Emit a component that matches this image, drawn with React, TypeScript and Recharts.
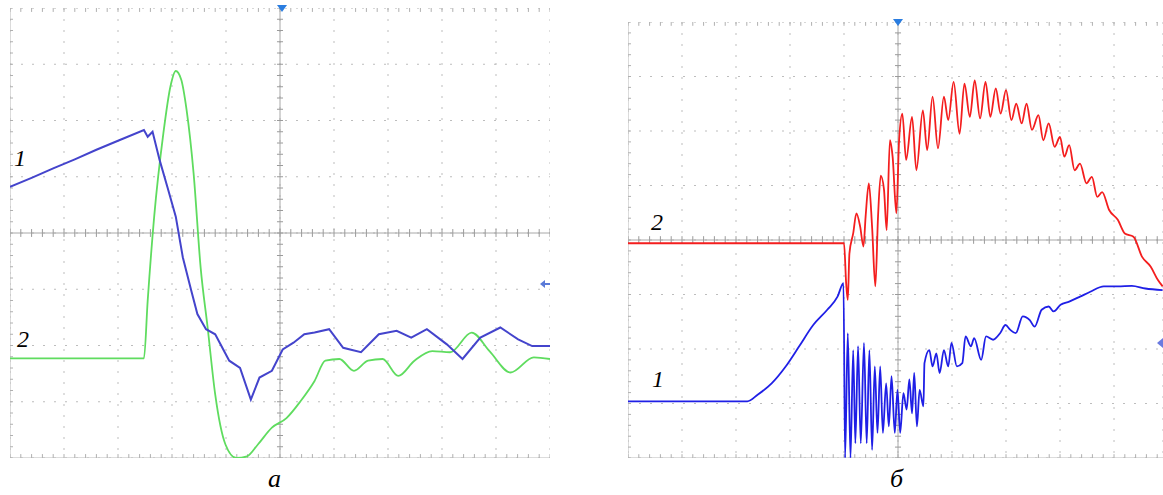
import React from "react";
import { LineChart, Line, XAxis, YAxis, CartesianGrid, ReferenceLine } from "recharts";

// screen divisions (x: 0..10, y: 0..8, centre at 5 / 4)
const majorX = [0, 1, 2, 3, 4, 5, 6, 7, 8, 9, 10];
const majorY = [0, 1, 2, 3, 4, 5, 6, 7, 8];
const minorX = Array.from({ length: 51 }, (_, i) => i / 5);
const minorY = Array.from({ length: 41 }, (_, i) => i / 5);

// panel а
const aTrace1: [number, number][] = [
  [0, 4.82], [0.4, 4.98], [0.8, 5.15], [1.2, 5.31], [1.6, 5.48], [2.0, 5.64], [2.48, 5.83], [2.55, 5.71],
  [2.64, 5.8], [2.77, 5.3], [2.92, 4.8], [3.07, 4.29], [3.2, 3.57], [3.35, 3.0], [3.47, 2.56], [3.63, 2.29],
  [3.8, 2.2], [4.06, 1.73], [4.26, 1.6], [4.46, 1.04], [4.62, 1.43], [4.85, 1.55], [5.05, 1.93], [5.25, 2.05],
  [5.45, 2.2], [5.64, 2.23], [5.91, 2.29], [6.17, 1.96], [6.5, 1.88], [6.83, 2.2], [7.16, 2.26], [7.43, 2.14],
  [7.72, 2.29], [8.09, 2.02], [8.38, 1.76], [8.71, 2.14], [9.08, 2.32], [9.41, 2.11], [9.67, 1.99], [10, 1.99],
];
const aTrace2: [number, number][] = [
  [0, 1.77], [1.0, 1.77], [2.0, 1.77], [2.48, 1.77], [2.55, 2.8], [2.67, 4.29], [2.84, 5.77], [2.97, 6.6],
  [3.07, 6.88], [3.17, 6.73], [3.27, 6.19], [3.4, 5.06], [3.53, 3.39], [3.66, 2.32], [3.8, 1.13], [3.99, 0.24],
  [4.19, 0.0], [4.39, 0.03], [4.59, 0.24], [4.85, 0.54], [5.12, 0.71], [5.38, 1.01], [5.64, 1.37], [5.84, 1.73],
  [6.1, 1.76], [6.37, 1.55], [6.63, 1.73], [6.9, 1.76], [7.19, 1.46], [7.49, 1.73], [7.82, 1.9], [8.15, 1.88],
  [8.55, 2.23], [8.88, 1.9], [9.27, 1.52], [9.7, 1.79], [10, 1.76],
];

// panel б
const bTrace2: [number, number][] = [
  [0, 3.94], [1, 3.94], [2, 3.94], [3, 3.94], [4.0, 3.94], [4.04, 3.2], [4.07, 2.9], [4.1, 3.75], [4.17, 4.12],
  [4.23, 4.49], [4.3, 4.24], [4.36, 3.88], [4.4, 4.43], [4.46, 5.04], [4.52, 4.24], [4.58, 3.15], [4.63, 4.43],
  [4.68, 5.18], [4.74, 4.93], [4.79, 4.18], [4.85, 5.83], [4.9, 5.53], [4.97, 4.49], [5.02, 5.83], [5.08, 6.32],
  [5.15, 5.47], [5.26, 6.26], [5.34, 5.28], [5.46, 6.38], [5.54, 5.65], [5.64, 6.63], [5.74, 5.68], [5.85, 6.63],
  [5.93, 6.2], [6.03, 6.9], [6.14, 5.95], [6.23, 6.87], [6.33, 6.26], [6.42, 6.93], [6.52, 6.23], [6.62, 6.9],
  [6.71, 6.26], [6.81, 6.78], [6.9, 6.32], [7.0, 6.75], [7.1, 6.2], [7.19, 6.5], [7.29, 6.14], [7.38, 6.5],
  [7.48, 6.02], [7.6, 6.29], [7.69, 5.83], [7.79, 6.14], [7.9, 5.71], [8.0, 5.89], [8.08, 5.53], [8.17, 5.74],
  [8.27, 5.28], [8.37, 5.4], [8.49, 5.04], [8.59, 5.16], [8.69, 4.79], [8.78, 4.88], [8.91, 4.55], [9.07, 4.37],
  [9.2, 4.12], [9.36, 4.06], [9.52, 3.69], [9.68, 3.51], [9.81, 3.27], [9.9, 3.15],
];
const bTrace1: [number, number][] = [
  [0, 1.04], [1, 1.04], [2.21, 1.04], [2.4, 1.16], [2.66, 1.37], [2.92, 1.68], [3.17, 2.05], [3.43, 2.44],
  [3.69, 2.72], [3.88, 2.96], [3.99, 3.21], [4.02, 0], [4.07, 2.29], [4.12, 0], [4.17, 1.98], [4.21, 0.27],
  [4.26, 2.05], [4.31, 0.27], [4.37, 2.11], [4.42, 0.27], [4.47, 1.98], [4.52, 0.15], [4.57, 1.68], [4.62, 0.46],
  [4.67, 1.68], [4.72, 0.46], [4.78, 1.37], [4.83, 0.58], [4.88, 1.5], [4.94, 0.46], [4.99, 1.25], [5.04, 0.46],
  [5.1, 1.19], [5.16, 0.89], [5.21, 1.44], [5.26, 0.82], [5.3, 1.56], [5.35, 0.58], [5.4, 1.25], [5.47, 0.95],
  [5.49, 1.74], [5.58, 1.98], [5.64, 1.68], [5.71, 1.92], [5.77, 1.56], [5.85, 1.98], [5.93, 1.68], [5.99, 2.11],
  [6.09, 1.68], [6.19, 1.74], [6.25, 2.23], [6.35, 2.05], [6.41, 2.2], [6.54, 1.8], [6.63, 2.23], [6.76, 2.17],
  [6.89, 2.29], [6.99, 2.44], [7.08, 2.35], [7.18, 2.29], [7.31, 2.6], [7.44, 2.53], [7.53, 2.41], [7.66, 2.72],
  [7.79, 2.78], [7.88, 2.69], [8.01, 2.81], [8.17, 2.87], [8.37, 2.96], [8.56, 3.05], [8.81, 3.15], [9.07, 3.15],
  [9.33, 3.16], [9.58, 3.11], [9.9, 3.08],
];

const toRows = (pts: [number, number][]) => pts.map(([t, v]) => ({ t, v }));

const serif = '"Liberation Serif", "DejaVu Serif", serif';

type Trace = { data: [number, number][]; color: string; w: number; curve: "linear" | "monotoneX" };

function Scope({ width, height, xMax, traces }: { width: number; height: number; xMax: number; traces: Trace[] }) {
  const tickLen = 0.07;
  const ticks: React.ReactNode[] = [];
  minorX.filter((t) => t <= xMax).forEach((t, i) => {
    ticks.push(
      <ReferenceLine key={"cx" + i} segment={[{ x: t, y: 4 - tickLen }, { x: t, y: 4 + tickLen }]} stroke="#9a9a9a" />,
      <ReferenceLine key={"tx" + i} segment={[{ x: t, y: 8 }, { x: t, y: 8 - tickLen }]} stroke="#b0b0b0" />,
      <ReferenceLine key={"bx" + i} segment={[{ x: t, y: 0 }, { x: t, y: tickLen }]} stroke="#b0b0b0" />
    );
  });
  minorY.forEach((t, i) => {
    const d = tickLen * 0.8;
    ticks.push(
      <ReferenceLine key={"cy" + i} segment={[{ x: 5 - d, y: t }, { x: 5 + d, y: t }]} stroke="#9a9a9a" />,
      <ReferenceLine key={"ly" + i} segment={[{ x: 0, y: t }, { x: d, y: t }]} stroke="#b0b0b0" />
    );
  });
  return (
    <LineChart width={width} height={height} margin={{ top: 0, right: 0, bottom: 0, left: 0 }}>
      <XAxis type="number" dataKey="t" domain={[0, xMax]} ticks={majorX.filter((t) => t <= xMax)} hide allowDataOverflow />
      <YAxis type="number" dataKey="v" domain={[0, 8]} ticks={majorY} hide allowDataOverflow />
      <CartesianGrid stroke="#bdbdbd" strokeDasharray="2 9" />
      <ReferenceLine x={5} stroke="#a8a8a8" />
      <ReferenceLine y={4} stroke="#a8a8a8" />
      <ReferenceLine x={0} stroke="#b8b8b8" />
      <ReferenceLine y={0} stroke="#b8b8b8" />
      <ReferenceLine y={8} stroke="#d0d0d0" strokeDasharray="2 9" />
      {ticks}
      {traces.map((tr, i) => (
        <Line
          key={i}
          data={toRows(tr.data)}
          dataKey="v"
          type={tr.curve}
          stroke={tr.color}
          strokeWidth={tr.w}
          dot={false}
          isAnimationActive={false}
        />
      ))}
    </LineChart>
  );
}

const label = (left: number, top: number, size = 22): React.CSSProperties => ({
  position: "absolute", left, top, fontFamily: serif, fontStyle: "italic", fontSize: size, lineHeight: 1,
});

export default function App() {
  return (
    <div style={{ position: "absolute", left: 0, top: 0, width: 1163, height: 495, background: "#fff", overflow: "hidden" }}>
      <div style={{ position: "absolute", left: 10, top: 8 }}>
        <Scope
          width={540}
          height={450}
          xMax={10}
          traces={[
            { data: aTrace2, color: "#5fdc5f", w: 1.8, curve: "monotoneX" },
            { data: aTrace1, color: "#4444cc", w: 2, curve: "linear" },
          ]}
        />
      </div>
      <div style={{ position: "absolute", left: 628, top: 22 }}>
        <Scope
          width={535}
          height={436}
          xMax={9.907}
          traces={[
            { data: bTrace2, color: "#f41e1e", w: 1.8, curve: "monotoneX" },
            { data: bTrace1, color: "#1f1fe6", w: 1.8, curve: "monotoneX" },
          ]}
        />
      </div>

      {/* scope markers */}
      <svg style={{ position: "absolute", left: 276, top: 4 }} width={12} height={10}>
        <path d="M1 1 L11 1 L6 8 Z" fill="#2a7de0" />
      </svg>
      <svg style={{ position: "absolute", left: 892, top: 18 }} width={12} height={10}>
        <path d="M1 1 L11 1 L6 8 Z" fill="#2a7de0" />
      </svg>
      <svg style={{ position: "absolute", left: 539, top: 279 }} width={12} height={10}>
        <path d="M1 5 L6 1 L6 9 Z M6 4 L11 4 L11 6 L6 6 Z" fill="#5a7ad8" />
      </svg>
      <svg style={{ position: "absolute", left: 1156, top: 338 }} width={8} height={10}>
        <path d="M1 5 L7 0 L7 10 Z" fill="#6a7ae0" />
      </svg>

      <div style={label(14, 146, 24)}>1</div>
      <div style={label(17, 327, 24)}>2</div>
      <div style={label(651, 210, 24)}>2</div>
      <div style={label(652, 367, 24)}>1</div>

      <div style={label(268, 466, 26)}>а</div>
      <div style={label(890, 466, 26)}>б</div>
    </div>
  );
}
